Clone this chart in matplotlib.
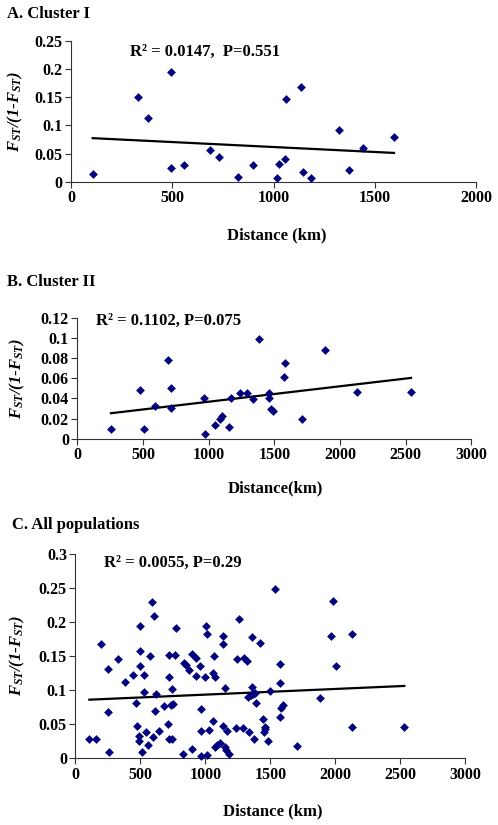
import numpy as np
import matplotlib
matplotlib.use("Agg")
import matplotlib.pyplot as plt

plt.rcParams['font.family'] = ['Liberation Serif', 'DejaVu Serif']
plt.rcParams['font.weight'] = 'bold'
plt.rcParams['mathtext.fontset'] = 'custom'
plt.rcParams['mathtext.rm'] = 'Liberation Serif:italic:bold'
plt.rcParams['mathtext.it'] = 'Liberation Serif:italic:bold'
plt.rcParams['mathtext.bf'] = 'Liberation Serif:italic:bold'

# Panel A - Cluster I
dist_a = [107, 331, 380, 494, 494, 559, 686, 732, 826, 897, 1015, 1028, 1058,
          1063, 1136, 1144, 1185, 1324, 1372, 1440, 1595]
fst_a = [0.013, 0.151, 0.113, 0.195, 0.025, 0.029, 0.056, 0.043, 0.009, 0.029,
         0.006, 0.031, 0.041, 0.147, 0.168, 0.017, 0.007, 0.091, 0.020, 0.059, 0.079]

# Panel B - Cluster II
dist_b = [256, 475, 510, 591, 688, 711, 716, 962, 970, 1048, 1084, 1099, 1155,
          1168, 1236, 1289, 1335, 1386, 1457, 1462, 1477, 1490, 1576, 1581,
          1711, 1888, 2132, 2541]
fst_b = [0.010, 0.0486, 0.0096, 0.032, 0.0777, 0.0506, 0.030, 0.0403, 0.0046,
         0.0139, 0.0198, 0.0225, 0.0116, 0.0403, 0.0453, 0.0456, 0.039, 0.0985,
         0.0403, 0.045, 0.029, 0.0278, 0.0615, 0.075, 0.0192, 0.0879, 0.0466, 0.0463]

# Panel C - All populations
dist_c = [108, 156, 197, 249, 249, 259, 331, 385, 441, 467, 472, 492, 492, 497,
          497, 500, 513, 531, 531, 541, 559, 577, 590, 595, 603, 621, 615, 644,
          685, 710, 718, 720, 720, 736, 741, 746, 751, 764, 777, 828, 838, 851,
          874, 897, 897, 928, 928, 962, 967, 964, 967, 995, 1005, 1013, 1015,
          1031, 1062, 1062, 1067, 1074, 1077, 1092, 1110, 1133, 1133, 1136, 1149,
          1149, 1156, 1167, 1185, 1233, 1241, 1262, 1287, 1295, 1318, 1328, 1333,
          1349, 1362, 1362, 1369, 1377, 1382, 1387, 1421, 1444, 1451, 1459, 1459,
          1485, 1497, 1538, 1574, 1574, 1574, 1582, 1600, 1703, 1882, 1969, 1985,
          2005, 2126, 2126, 2531]
fst_c = [0.028, 0.028, 0.168, 0.131, 0.068, 0.009, 0.146, 0.112, 0.123, 0.081,
         0.048, 0.033, 0.025, 0.195, 0.135, 0.157, 0.009, 0.122, 0.097, 0.039,
         0.019, 0.150, 0.229, 0.031, 0.209, 0.094, 0.070, 0.040, 0.077, 0.050,
         0.119, 0.151, 0.029, 0.078, 0.029, 0.102, 0.080, 0.151, 0.191, 0.007,
         0.140, 0.137, 0.129, 0.013, 0.153, 0.147, 0.121, 0.136, 0.073, 0.040,
         0.003, 0.119, 0.194, 0.182, 0.005, 0.042, 0.125, 0.055, 0.150, 0.120,
         0.016, 0.020, 0.023, 0.047, 0.179, 0.168, 0.103, 0.016, 0.012, 0.040,
         0.007, 0.0445, 0.146, 0.205, 0.0445, 0.148, 0.143, 0.090, 0.039, 0.093,
         0.178, 0.105, 0.095, 0.028, 0.096, 0.081, 0.169, 0.057, 0.039, 0.043,
         0.0455, 0.026, 0.099, 0.248, 0.110, 0.138, 0.060, 0.074, 0.078, 0.018,
         0.088, 0.180, 0.231, 0.136, 0.182, 0.046, 0.0455]

titles = ["A. Cluster I", "B. Cluster II", "C. All populations"]
stats = ["R\u00b2 = 0.0147,  P=0.551", "R\u00b2 = 0.1102, P=0.075", "R\u00b2 = 0.0055, P=0.29"]
xlabels = ["Distance (km)", "Distance(km)", "Distance (km)"]
xmaxes = [2000, 3000, 3000]
ymaxes = [0.25, 0.12, 0.3]
ysteps = [0.05, 0.02, 0.05]
data = [(dist_a, fst_a), (dist_b, fst_b), (dist_c, fst_c)]

W, H = 498, 825
# axes boxes in pixels: left, top, right, bottom
boxes = [(71, 40.7, 476, 181.7), (77.3, 317.7, 471.3, 438.7), (75.3, 554, 465.3, 758.3)]
title_pos = [(7, 14), (7, 282), (12, 525)]
r2_pos = [(130, 52), (96, 321), (104, 563)]
xlab_pos = [(277, 235), (275, 488), (273, 811)]
ylab_x = [15, 17, 17]

fig = plt.figure(figsize=(W / 100, H / 100), dpi=100)

for i in range(3):
    l, t, r, btm = boxes[i]
    ax = fig.add_axes([l / W, 1 - btm / H, (r - l) / W, (btm - t) / H])
    xs = np.array(data[i][0])
    ys = np.array(data[i][1])
    ax.scatter(xs, ys, marker='D', s=20, color='#00007f', zorder=3, linewidths=0, clip_on=False)
    k, b = np.polyfit(xs, ys, 1)
    xl = np.array([xs.min(), xs.max()])
    ax.plot(xl, k * xl + b, color='black', lw=1.6)
    ax.set_xlim(0, xmaxes[i])
    ax.set_ylim(0, ymaxes[i])
    ax.set_xticks(np.arange(0, xmaxes[i] + 1, 500))
    yt = np.round(np.arange(0, ymaxes[i] + ysteps[i] / 2, ysteps[i]), 3)
    ax.set_yticks(yt)
    ax.set_yticklabels(["{:g}".format(v) for v in yt])
    ax.spines['top'].set_visible(False)
    ax.spines['right'].set_visible(False)
    ax.spines['left'].set_color('#333333')
    ax.spines['bottom'].set_color('#333333')
    ax.tick_params(direction='out', length=4, width=0.8, colors='#333333',
                   labelcolor='black', labelsize=11.5, pad=2)
    for lab in ax.get_xticklabels() + ax.get_yticklabels():
        lab.set_fontweight('bold')

    fig.text(ylab_x[i] / W, 1 - (t + btm) / 2 / H, r'$F_{ST}/(1$-$F_{ST})$',
             fontsize=12, rotation=90, va='center', ha='center')
    tx, ty = title_pos[i]
    fig.text(tx / W, 1 - ty / H, titles[i], fontsize=12, fontweight='bold', va='center', ha='left')
    rx, ry = r2_pos[i]
    fig.text(rx / W, 1 - ry / H, stats[i], fontsize=12, fontweight='bold', va='center', ha='left')
    lx, ly = xlab_pos[i]
    fig.text(lx / W, 1 - ly / H, xlabels[i], fontsize=12, fontweight='bold', va='center', ha='center')

fig.savefig("out.png", dpi=100)
